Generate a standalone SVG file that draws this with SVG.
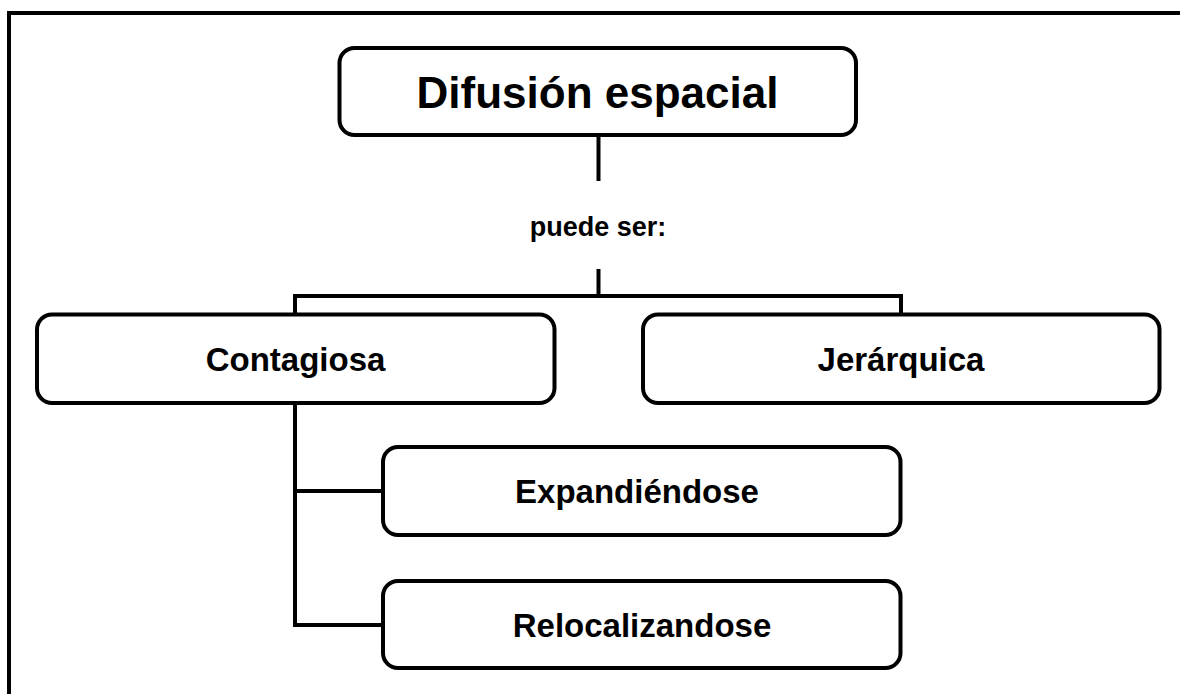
<svg xmlns="http://www.w3.org/2000/svg" width="1180" height="694" viewBox="0 0 1180 694">
<style>
.box{fill:#fff;stroke:#000;stroke-width:4}
.ln{fill:none;stroke:#000;stroke-width:4}
.t{font-family:"Liberation Sans",Arial,sans-serif;font-weight:bold;fill:#000;text-anchor:middle}
.n{font-size:33px}
</style>
<rect width="1180" height="694" fill="#fff"/>
<path class="ln" d="M9,694 V13 H1180"/>
<g id="connectors">
<path class="ln" d="M598.5,136 V181"/>
<path class="ln" d="M598.5,269 V296"/>
<path class="ln" d="M295,314 V296 H901 V314"/>
<path class="ln" d="M295,403 V625 H383"/>
<path class="ln" d="M295,491 H383"/>
</g>
<g id="label-puede">
<text class="t" x="598" y="236" font-size="27">puede ser:</text>
</g>
<g id="n-difusion">
<rect class="box" x="339.5" y="48" width="516.5" height="87" rx="15"/>
<text class="t" x="597.5" y="108" font-size="44">Difusión espacial</text>
</g>
<g id="n-contagiosa">
<rect class="box" x="37" y="314.5" width="517.5" height="88.5" rx="15"/>
<text class="t n" x="295.5" y="370.5">Contagiosa</text>
</g>
<g id="n-jerarquica">
<rect class="box" x="643" y="314.5" width="516.5" height="88.5" rx="15"/>
<text class="t n" x="901" y="370.5">Jerárquica</text>
</g>
<g id="n-expandiendose">
<rect class="box" x="383" y="447" width="517.5" height="88" rx="15"/>
<text class="t n" x="637" y="503">Expandiéndose</text>
</g>
<g id="n-relocalizandose">
<rect class="box" x="383" y="581" width="517.5" height="87" rx="15"/>
<text class="t n" x="642" y="636.5">Relocalizandose</text>
</g>
</svg>
